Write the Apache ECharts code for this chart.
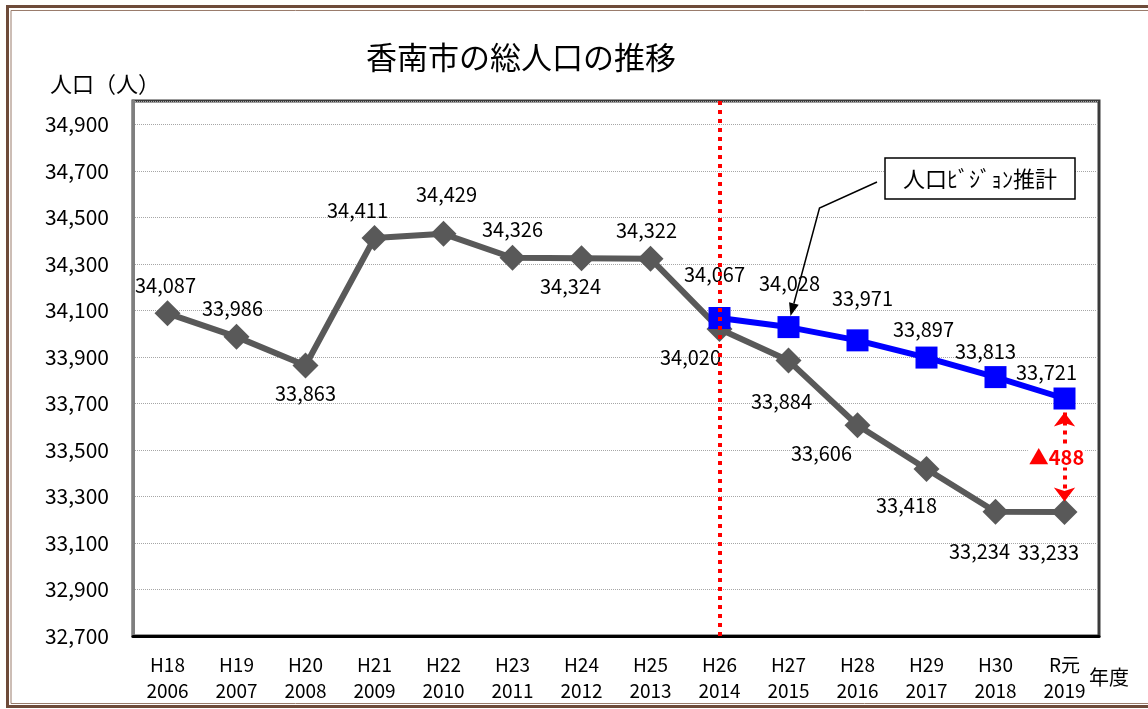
<!DOCTYPE html>
<html><head><meta charset="utf-8">
<script src="https://cdn.jsdelivr.net/npm/echarts@6/dist/echarts.min.js"></script>
<style>html,body{margin:0;padding:0;background:#fff}#c{width:1148px;height:709px}</style>
</head><body><div id="c"></div>
<script>
// ---- data ----
const categories = ['H18\n2006','H19\n2007','H20\n2008','H21\n2009','H22\n2010','H23\n2011','H24\n2012','H25\n2013','H26\n2014','H27\n2015','H28\n2016','H29\n2017','H30\n2018','R元\n2019'];
const actualPopulation = [34087,33986,33863,34411,34429,34326,34324,34322,34020,33884,33606,33418,33234,33233];
const visionPopulation = [null,null,null,null,null,null,null,null,34067,34028,33971,33897,33813,33721];
const yTicks = [32700,32900,33100,33300,33500,33700,33900,34100,34300,34500,34700,34900];
const titleText = '香南市の総人口の推移';
const yAxisTitle = '人口（人）';
const xAxisTitle = '年度';
const visionLabel = '人口ﾋﾞｼﾞｮﾝ推計';

// ---- styles (label placement) ----
const actualLabelPos = ['top','top','bottom','top','top','top','bottom','top','bottom','bottom','bottom','bottom','bottom','bottom'];
const actualLabelOffset = [[-2,0],[-4,0],[0,0],[-17,0],[3,-11],[0,0],[-11,0],[-4,0],[-29,0],[-7,13],[-36,0],[-20,8],[-16,12],[-16,12]];
const visionLabelOffset = [null,null,null,null,null,null,null,null,[-5,-18],[1,-18],[5,-16],[-3,-2],[-10,0],[-18,0]];

const FONT = '"Noto Sans CJK JP","Noto Sans",sans-serif';
const fmt = v => v.toLocaleString('en-US');

const chart = echarts.init(document.getElementById('c'), null, {renderer:'canvas'});
const last = categories.length - 1;
const gap = visionPopulation[last] - actualPopulation[last];
const redDots = {color: '#ff0000', width: 4, type: [4, 5]};

const option = {
  animation: false,
  backgroundColor: '#fff',
  textStyle: {fontFamily: FONT},
  grid: {left: 133, right: 49, top: 101, bottom: 73, show: true, borderColor: '#3a3a3a', borderWidth: 3, backgroundColor: '#fff'},
  xAxis: {
    type: 'category', data: categories, boundaryGap: true,
    axisLine: {lineStyle: {color: '#000', width: 3}},
    axisTick: {show: false},
    axisLabel: {fontFamily: FONT, fontSize: 19, color: '#000', lineHeight: 26, margin: 16, interval: 0}
  },
  yAxis: {
    type: 'value', min: 32700, max: 35000, interval: 200,
    axisLine: {show: true, lineStyle: {color: '#7f7f7f', width: 3}},
    axisTick: {show: false},
    splitLine: {lineStyle: {color: '#a6a6a6', width: 1, type: 'dotted'}},
    axisLabel: {fontFamily: FONT, fontSize: 21, color: '#000', margin: 24,
      formatter: v => yTicks.indexOf(v) >= 0 ? fmt(v) : ''}
  },
  series: [
    {
      type: 'line', name: '実績', z: 2,
      data: actualPopulation.map((v, i) => ({
        value: v,
        label: {position: actualLabelPos[i], offset: actualLabelOffset[i]}
      })),
      symbol: 'diamond', symbolSize: 26,
      itemStyle: {color: '#595959'},
      lineStyle: {color: '#595959', width: 6},
      label: {show: true, formatter: p => fmt(p.value), fontFamily: FONT, fontSize: 20, color: '#000'}
    },
    {
      type: 'line', name: '人口ビジョン推計', z: 3,
      data: visionPopulation.map((v, i) => v == null ? null : ({
        value: v,
        label: {position: 'top', offset: visionLabelOffset[i]}
      })),
      symbol: 'rect', symbolSize: 22,
      itemStyle: {color: '#0000ff'},
      lineStyle: {color: '#0000ff', width: 6},
      label: {show: true, formatter: p => fmt(p.value), fontFamily: FONT, fontSize: 20, color: '#000'},
      markLine: {
        silent: true, animation: false,
        symbol: ['none', 'none'],
        label: {show: false},
        lineStyle: redDots,
        data: [
          {xAxis: categories[8]},
          [
            {coord: [categories[last], visionPopulation[last] - 60], symbol: 'arrow', symbolSize: [16, 14]},
            {coord: [categories[last], actualPopulation[last] + 45], symbol: 'arrow', symbolSize: [16, 14]}
          ]
        ]
      },
      markPoint: {
        silent: true, animation: false,
        symbol: 'rect', symbolSize: 0,
        data: [{
          coord: [categories[last], (visionPopulation[last] + actualPopulation[last]) / 2 - 10],
          label: {show: true, formatter: '▲' + gap, color: '#ff0000', fontWeight: 'bold',
            fontFamily: FONT, fontSize: 20, backgroundColor: '#fff', padding: [0, 1], offset: [-8, 0]}
        }]
      }
    }
  ]
};
chart.setOption(option);

// annotation + frame
const p = chart.convertToPixel({seriesIndex: 1}, [9, visionPopulation[9]]);
const tip = [p[0] + 2, p[1] - 11];
const bend = [p[0] + 31, p[1] - 119];
const start = [877, 182];
const dx = tip[0] - bend[0], dy = tip[1] - bend[1];
const len = Math.sqrt(dx*dx + dy*dy), ux = dx/len, uy = dy/len;
const hl = 13, hw = 5;
const base = [tip[0] - ux*hl, tip[1] - uy*hl];
const head = [tip, [base[0] - uy*hw, base[1] + ux*hw], [base[0] + uy*hw, base[1] - ux*hw]];

chart.setOption({
  graphic: [
    {type: 'rect', shape: {x: 7.5, y: 6.5, width: 1145, height: 700}, style: {fill: null, stroke: '#6e4b3a', lineWidth: 3}, z: 100, silent: true},
    {type: 'rect', shape: {x: 11, y: 10.5, width: 1140, height: 693}, style: {fill: null, stroke: '#9a7c6c', lineWidth: 1}, z: 100, silent: true},
    {type: 'text', x: 521, y: 57, style: {text: titleText, font: '31px ' + FONT, fill: '#000', textAlign: 'center', textVerticalAlign: 'middle'}, z: 100},
    {type: 'text', x: 50, y: 84, style: {text: yAxisTitle, font: '22px ' + FONT, fill: '#000', textAlign: 'left', textVerticalAlign: 'middle'}, z: 100},
    {type: 'text', x: 1089, y: 677, style: {text: xAxisTitle, font: '20px ' + FONT, fill: '#000', textAlign: 'left', textVerticalAlign: 'middle'}, z: 100},
    {type: 'polyline', shape: {points: [start, bend, base]}, style: {stroke: '#000', lineWidth: 1.5, fill: null}, z: 100},
    {type: 'polygon', shape: {points: head}, style: {fill: '#000'}, z: 100},
    {type: 'rect', shape: {x: 885, y: 158, width: 190, height: 41}, style: {fill: '#fff', stroke: '#000', lineWidth: 1.5}, z: 100},
    {type: 'text', x: 980, y: 179, style: {text: visionLabel, font: '22px ' + FONT, fill: '#000', textAlign: 'center', textVerticalAlign: 'middle'}, z: 101}
  ]
});
</script>
</body></html>
